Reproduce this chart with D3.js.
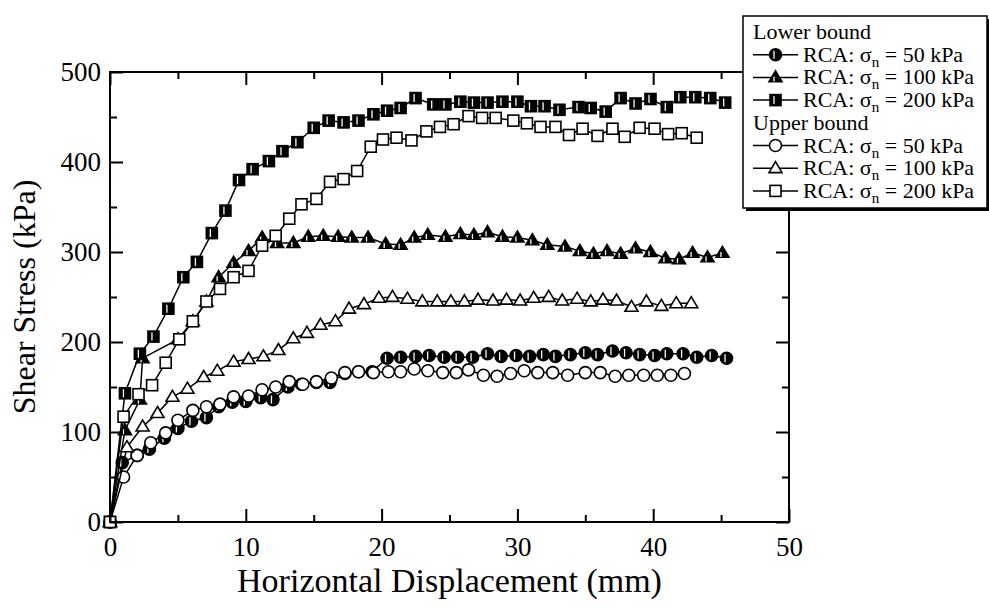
<!DOCTYPE html>
<html>
<head>
<meta charset="utf-8">
<script src="https://cdn.jsdelivr.net/npm/d3@7.9.0/dist/d3.min.js"></script>
<style>
  html, body { margin: 0; padding: 0; background: #fff; }
  svg, svg text { font-family: "Liberation Serif", "Times New Roman", Times, serif; }
</style>
</head>
<body>
<svg id="chart" width="989" height="608"></svg>
<script>
// ---------------- data (mm, kPa) ----------------
const xTicks = [0, 10, 20, 30, 40, 50];
const yTicks = [0, 100, 200, 300, 400, 500];
const xMinor = [5, 15, 25, 35, 45];
const yMinor = [50, 150, 250, 350, 450];

const lb50 = [[0,0],[0.9,66],[2.0,74],[2.9,81],[4.0,93],[5.0,104],[6.0,112],[7.1,116],[8.0,128],[9.0,133],[10.0,134],[11.1,138],[12.0,136],[13.1,150],[14.1,153],[15.2,155],[16.2,155],[17.3,165],[18.3,167],[19.3,167],
  [20.4,182],[21.4,183],[22.5,184],[23.5,185],[24.6,183],[25.6,183],[26.7,183],[27.8,187],[28.8,184],[29.9,185],[30.9,184],[31.9,186],[32.8,184],[33.9,186],[35.0,188],[35.9,186],[37.0,190],[38.0,188],[39.0,186],[40.1,185],[41.0,187],[42.2,187],[43.2,183],[44.3,185],[45.4,182]];
const lb100 = [[0,0],[1.1,102],[2.2,136],[2.4,182],[5.0,203],[6.1,223],[7.1,245],[8.0,272],[9.1,288],[10.2,301],[11.2,316],[12.3,310],[13.5,310],[14.6,317],[15.7,318],[16.8,317],[17.8,316],
  [19.0,316],[20.3,309],[21.4,308],[22.4,316],[23.4,319],[24.7,317],[25.8,320],[26.8,319],[27.8,322],[28.9,317],[30.0,316],[31.1,313],[32.2,308],[33.5,306],[34.6,301],[35.6,298],[36.6,301],[37.6,298],[38.7,304],[39.8,300],[40.9,293],[41.9,292],[42.9,299],[44.0,294],[45.1,299]];
const lb200 = [[0,0],[1.1,143],[2.2,187],[3.2,206],[4.3,237],[5.4,272],[6.4,289],[7.5,321],[8.5,346],[9.5,380],[10.5,392],[11.7,401],[12.7,412],[13.8,422],[15.0,438],[16.1,446],[17.2,444],[18.3,446],[19.4,453],[20.4,457],[21.4,460],
  [22.5,471],[23.8,464],[24.7,464],[25.8,467],[26.8,466],[27.8,466],[28.9,467],[30.0,467],[31.0,462],[32.0,462],[33.1,458],[34.5,461],[35.4,460],[36.5,456],[37.6,471],[38.7,465],[39.8,470],[41.0,461],[42.0,472],[43.1,472],[44.2,471],[45.3,466]];
const ub50 = [[0,0],[1.0,50],[2.0,74],[3.0,88],[4.1,99],[5.0,113],[6.1,124],[7.1,128],[8.1,131],[9.1,139],[10.2,140],[11.2,147],[12.2,150],[13.2,156],[14.2,153],[15.2,156],[16.3,160],[17.3,166],
  [18.3,167],[19.4,166],[20.5,167],[21.4,167],[22.4,170],[23.4,168],[24.5,166],[25.5,166],[26.4,169],[27.5,163],[28.5,162],[29.5,165],[30.5,168],[31.5,166],[32.6,166],[33.7,163],[35.0,166],[36.1,166],[37.2,162],[38.2,163],[39.3,163],[40.3,163],[41.3,163],[42.3,165]];
const ub100 = [[0,0],[1.25,83],[2.4,106],[3.5,121],[4.6,139],[5.7,148],[6.9,161],[7.9,168],[9.1,178],[10.2,181],[11.3,184],[12.4,191],[13.5,204],[14.5,210],[15.5,219],[16.6,223],[17.6,237],
  [18.7,242],[19.8,249],[20.8,250],[21.9,248],[23.0,245],[24.1,245],[25.1,245],[26.1,245],[27.1,247],[28.2,246],[29.2,247],[30.2,246],[31.2,249],[32.3,250],[33.3,246],[34.4,248],[35.4,245],[36.3,247],[37.3,246],[38.4,239],[39.5,245],[40.6,240],[41.7,243],[42.8,243]];
const ub200 = [[0,0],[1.0,117],[2.1,142],[3.1,152],[4.1,177],[5.1,203],[6.1,223],[7.1,245],[8.1,259],[9.1,272],[10.2,279],[11.2,307],[12.2,318],[13.2,337],[14.1,353],[15.2,359],[16.2,378],[17.2,381],
  [18.2,390],[19.2,417],[20.1,425],[21.1,427],[22.2,424],[23.3,434],[24.3,439],[25.3,442],[26.4,451],[27.4,449],[28.4,449],[29.7,446],[30.7,443],[31.7,439],[32.8,439],[33.8,430],[34.8,437],[35.9,429],[37.0,437],[37.9,428],[39.0,438],[40.1,437],[41.1,431],[42.1,432],[43.2,427]];

const series = [
  { name: "50",  data: lb50,  shape: "circle",   filled: true },
  { name: "100", data: lb100, shape: "triangle", filled: true },
  { name: "200", data: lb200, shape: "square",   filled: true },
  { name: "50",  data: ub50,  shape: "circle",   filled: false },
  { name: "100", data: ub100, shape: "triangle", filled: false },
  { name: "200", data: ub200, shape: "square",   filled: false }
];

// ---------------- layout ----------------
const FONT = '"Liberation Serif", "Times New Roman", Times, serif';
const svg = d3.select("#chart");
const x = d3.scaleLinear().domain([0, 50]).range([110, 789]);
const y = d3.scaleLinear().domain([0, 500]).range([522, 72]);

// markers
function drawMarker(g, cx, cy, s) {
  const fill = s.filled ? "#000" : "#fff";
  let m;
  if (s.shape === "circle") {
    m = g.append("circle").attr("cx", cx).attr("cy", cy).attr("r", 6);
  } else if (s.shape === "square") {
    m = g.append("rect").attr("x", cx - 5.5).attr("y", cy - 5.5).attr("width", 11).attr("height", 11);
  } else {
    const h = 11, w = 13;
    m = g.append("path").attr("d", `M${cx},${cy - h * 0.6}L${cx + w / 2},${cy + h * 0.4}L${cx - w / 2},${cy + h * 0.4}Z`);
  }
  m.attr("fill", fill).attr("stroke", "#000").attr("stroke-width", 1.6);
  if (s.filled) {
    // the white sliver seen in the printed filled symbols
    const top = s.shape === "triangle" ? cy - 1 : cy - 4;
    g.append("line").attr("x1", cx - 1.5).attr("x2", cx - 1.5).attr("y1", top).attr("y2", cy + 4)
      .attr("stroke", "#fff").attr("stroke-width", 1.3);
  }
}

const line = d3.line().x(d => x(d[0])).y(d => y(d[1]));
const plot = svg.append("g");
series.forEach(s => {
  const g = plot.append("g");
  g.append("path").attr("d", line(s.data)).attr("fill", "none").attr("stroke", "#000").attr("stroke-width", 1.5);
  s.data.forEach(d => drawMarker(g, x(d[0]), y(d[1]), s));
});

// ---------------- axes ----------------
const axisFont = 27;
function styleAxis(g) {
  g.attr("font-family", FONT).attr("font-size", axisFont);
  g.select(".domain").remove();
  g.selectAll("line").attr("stroke", "#000").attr("stroke-width", 2);
  g.selectAll("text").attr("fill", "#000");
}
svg.append("g").attr("transform", "translate(0,522)")
  .call(d3.axisBottom(x).tickValues(xTicks).tickSize(-13).tickPadding(15).tickFormat(d3.format("d"))).call(styleAxis);
svg.append("g").attr("transform", "translate(0,522)")
  .call(d3.axisBottom(x).tickValues(xMinor).tickSize(-7).tickFormat("")).call(styleAxis);
svg.append("g").attr("transform", "translate(0,72)")
  .call(d3.axisTop(x).tickValues(xTicks).tickSize(-13).tickFormat("")).call(styleAxis);
svg.append("g").attr("transform", "translate(0,72)")
  .call(d3.axisTop(x).tickValues(xMinor).tickSize(-7).tickFormat("")).call(styleAxis);
svg.append("g").attr("transform", "translate(110,0)")
  .call(d3.axisLeft(y).tickValues(yTicks).tickSize(-13).tickPadding(9).tickFormat(d3.format("d"))).call(styleAxis);
svg.append("g").attr("transform", "translate(110,0)")
  .call(d3.axisLeft(y).tickValues(yMinor).tickSize(-7).tickFormat("")).call(styleAxis);
svg.append("g").attr("transform", "translate(789,0)")
  .call(d3.axisRight(y).tickValues(yTicks).tickSize(-13).tickFormat("")).call(styleAxis);
svg.append("g").attr("transform", "translate(789,0)")
  .call(d3.axisRight(y).tickValues(yMinor).tickSize(-7).tickFormat("")).call(styleAxis);

// frame
svg.append("rect").attr("x", 110).attr("y", 72).attr("width", 679).attr("height", 450)
  .attr("fill", "none").attr("stroke", "#000").attr("stroke-width", 2);

// titles
svg.append("text").attr("x", 449.5).attr("y", 592).attr("text-anchor", "middle")
  .attr("font-family", FONT).attr("font-size", 34).text("Horizontal Displacement (mm)");
svg.append("text").attr("transform", "translate(35,297) rotate(-90)").attr("text-anchor", "middle")
  .attr("font-family", FONT).attr("font-size", 32).text("Shear Stress (kPa)");

// ---------------- legend ----------------
const lg = svg.append("g").attr("font-family", FONT);
const lgX = 743, lgY = 16, lgW = 244, lgH = 192;
lg.append("rect").attr("x", lgX + 3).attr("y", lgY + 3).attr("width", lgW).attr("height", lgH).attr("fill", "#000");
lg.append("rect").attr("x", lgX).attr("y", lgY).attr("width", lgW).attr("height", lgH)
  .attr("fill", "#fff").attr("stroke", "#000").attr("stroke-width", 1.5);

const rowH = 22.7;
const legendRows = [
  { header: "Lower bound" }, { s: series[0] }, { s: series[1] }, { s: series[2] },
  { header: "Upper bound" }, { s: series[3] }, { s: series[4] }, { s: series[5] }
];
legendRows.forEach((r, i) => {
  const cy = lgY + 16 + i * rowH;
  if (r.header) {
    lg.append("text").attr("x", lgX + 10).attr("y", cy + 7).attr("font-size", 22).text(r.header);
    return;
  }
  lg.append("line").attr("x1", lgX + 10).attr("x2", lgX + 55).attr("y1", cy).attr("y2", cy)
    .attr("stroke", "#000").attr("stroke-width", 1.5);
  drawMarker(lg, lgX + 32.5, cy, r.s);
  const t = lg.append("text").attr("x", lgX + 60).attr("y", cy + 7).attr("font-size", 22);
  t.append("tspan").text("RCA: \u03c3");
  t.append("tspan").attr("font-size", 15).attr("dy", 5).text("n");
  t.append("tspan").attr("dy", -5).text(` = ${r.s.name} kPa`);
});
</script>
</body>
</html>
